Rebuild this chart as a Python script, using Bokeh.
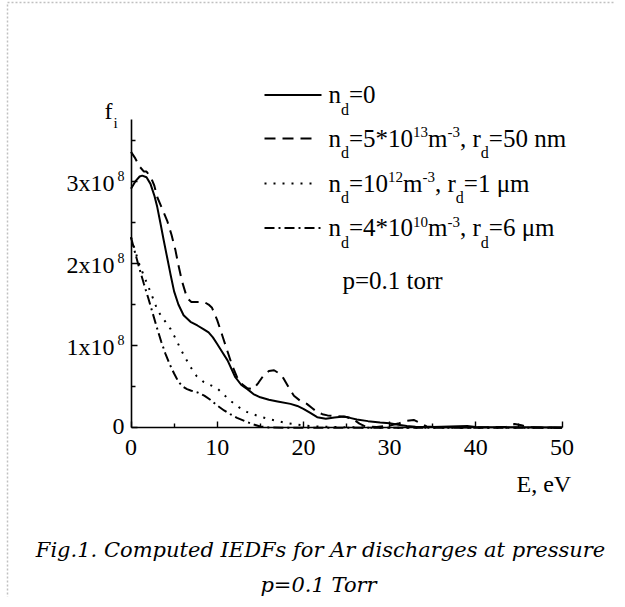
from bokeh.plotting import figure
from bokeh.models import Range1d, FixedTicker, Label, CustomJSTickFormatter
from bokeh.embed import file_html
from bokeh.resources import INLINE

# ---------------- data (f in units of 1e8) ----------------
E_solid = [0, 0.5, 1.0, 1.3, 1.8, 2.26, 2.7, 3.04, 3.4, 3.8, 4.2, 4.58, 5.0, 5.5, 6.1, 6.9, 7.7, 8.4, 9.0,
           9.5, 10.0, 10.6, 11.2, 12.1, 12.8, 13.5, 14.2, 15.0, 16.0, 17.0, 18.5, 19.3, 20.0, 20.8, 21.6,
           22.6, 23.6, 24.7, 25.4, 26.2, 27.5, 28.9, 30.0, 31.0, 32.0, 33.0, 35.0, 37.0, 39.0, 40.0, 42.0,
           45.0, 50.0]
F_solid = [2.91, 3.0, 3.06, 3.07, 3.05, 2.97, 2.83, 2.69, 2.5, 2.28, 2.07, 1.87, 1.66, 1.5, 1.37, 1.29, 1.245,
           1.2, 1.16, 1.1, 1.02, 0.92, 0.82, 0.615, 0.52, 0.47, 0.41, 0.37, 0.34, 0.32, 0.29, 0.265, 0.23,
           0.18, 0.128, 0.108, 0.125, 0.136, 0.12, 0.10, 0.08, 0.063, 0.055, 0.035, 0.02, 0.012, 0.01,
           0.015, 0.02, 0.01, 0.005, 0.005, 0.003]

E_dash = [0, 0.5, 1.0, 1.5, 1.8, 2.3, 2.7, 3.04, 3.6, 4.2, 4.7, 5.16, 5.5, 5.9, 6.5, 7.0, 7.5, 8.06, 8.5, 9.0,
          9.4, 10.0, 10.6, 11.16, 11.7, 12.3, 12.9, 13.5, 14.2, 14.8, 15.4, 16.0, 16.6, 17.2, 17.7, 18.3,
          18.9, 19.6, 20.4, 21.0, 21.6, 22.2, 22.8, 24.0, 25.0, 25.8, 26.5, 27.2, 28.5, 30.0, 31.0, 32.0,
          32.8, 33.5, 34.3, 35.5, 40.0, 43.5, 44.5, 45.3, 46.0, 50.0]
F_dash = [3.36, 3.28, 3.18, 3.12, 3.12, 3.05, 2.95, 2.81, 2.67, 2.52, 2.35, 2.16, 1.98, 1.79, 1.58, 1.53, 1.53,
          1.53, 1.53, 1.5, 1.46, 1.31, 1.12, 0.94, 0.77, 0.615, 0.53, 0.48, 0.47, 0.55, 0.64, 0.69, 0.70,
          0.66, 0.60, 0.49, 0.39, 0.33, 0.29, 0.24, 0.19, 0.165, 0.15, 0.14, 0.13, 0.10, 0.05, 0.015, 0.01,
          0.025, 0.05, 0.085, 0.095, 0.06, 0.015, 0.005, 0.003, 0.01, 0.045, 0.03, 0.005, 0.0]

E_dot = [0, 0.5, 1.0, 1.5, 2.0, 2.65, 3.0, 3.5, 4.0, 4.6, 5.2, 5.7, 6.3, 6.9, 7.6, 8.4, 9.2, 10.0, 10.7, 11.5,
         12.5, 13.5, 14.8, 16.2, 18.1, 20.0, 22.0, 24.0, 26.0, 28.0, 50.0]
F_dot = [2.32, 2.15, 1.98, 1.85, 1.72, 1.55, 1.45, 1.36, 1.29, 1.2, 1.08, 0.97, 0.85, 0.74, 0.63, 0.56, 0.52,
         0.48, 0.41, 0.33, 0.25, 0.19, 0.14, 0.10, 0.055, 0.027, 0.012, 0.008, 0.004, 0.0, 0.0]

E_dashdot = [0, 0.5, 1.0, 1.5, 2.0, 2.5, 3.0, 3.5, 4.0, 4.5, 5.0, 5.5, 6.0, 6.5, 7.0, 7.7, 8.5, 9.2, 10.0,
             10.8, 11.5, 12.3, 13.2, 14.2, 15.0, 16.0, 18.0, 50.0]
F_dashdot = [2.32, 2.12, 1.93, 1.75, 1.58, 1.40, 1.22, 1.05, 0.90, 0.77, 0.66, 0.56, 0.50, 0.47, 0.45, 0.43,
             0.39, 0.34, 0.27, 0.21, 0.165, 0.12, 0.08, 0.04, 0.015, 0.003, 0.0, 0.0]

x_ticks = [0, 10, 20, 30, 40, 50]
x_minor = [5, 15, 25, 35, 45]
x_tick_labels = ["0", "10", "20", "30", "40", "50"]
y_ticks = [0, 1, 2, 3]
y_minor = [0.5, 1.5, 2.5, 3.5]
y_tick_main = ["0", "1x10", "2x10", "3x10"]
y_tick_sup = ["", "8", "8", "8"]

legend_rows = [
    [("n", "m"), ("d", "sub"), ("=0", "m")],
    [("n", "m"), ("d", "sub"), ("=5*10", "m"), ("13", "sup"), ("m", "m"), ("-3", "sup"), (", r", "m"),
     ("d", "sub"), ("=50 nm", "m")],
    [("n", "m"), ("d", "sub"), ("=10", "m"), ("12", "sup"), ("m", "m"), ("-3", "sup"), (", r", "m"),
     ("d", "sub"), ("=1 \u03bcm", "m")],
    [("n", "m"), ("d", "sub"), ("=4*10", "m"), ("10", "sup"), ("m", "m"), ("-3", "sup"), (", r", "m"),
     ("d", "sub"), ("=6 \u03bcm", "m")],
]
legend_dash = ["solid", "11 7", "2 7", "10 4 2 4"]
pressure_note = "p=0.1 torr"
caption_lines = ["Fig.1. Computed IEDFs for Ar discharges at pressure", "p=0.1 Torr"]

# ---------------- layout (page pixels) ----------------
W, H = 624, 606
MB, MR = 10, 10          # thin panels holding the (relocated) axes
PXE = 431.0 / 50.0       # px per eV
PYF = 82.1               # px per 1e8
X0P = 130.5              # page x of E=0
Y0P = 427.2              # page y of f=0
BASE_FIX = 0.33          # observed downward offset of label baselines, in em

def X(px):
    return (px - X0P) / PXE

def Y(py):
    return (Y0P - py) / PYF

FONT = "Liberation Serif"
CAP_FONT = "DejaVu Serif"
p = figure(width=W, height=H, output_backend="svg", toolbar_location=None,
           x_axis_location="below", y_axis_location="right",
           x_range=Range1d(X(0), X(W - MR)), y_range=Range1d(Y(H - MB), Y(0)),
           min_border_left=0, min_border_bottom=MB, min_border_top=0, min_border_right=MR)
p.outline_line_color = None
p.grid.visible = False
p.background_fill_color = "white"
p.border_fill_color = "white"

for ax in (p.xaxis[0], p.yaxis[0]):
    ax.fixed_location = 0
    ax.axis_line_color = "black"
    ax.axis_line_width = 1.6
    ax.major_tick_line_color = "black"
    ax.minor_tick_line_color = "black"
    ax.major_tick_line_width = 1.4
    ax.minor_tick_line_width = 1.4
    ax.major_label_standoff = 0
    ax.major_label_text_font_size = "1px"
    ax.formatter = CustomJSTickFormatter(code="return ''")

# x axis (below panel): ticks point up, into the plot
p.xaxis.major_tick_in = 6
p.xaxis.major_tick_out = 0
p.xaxis.minor_tick_in = 4
p.xaxis.minor_tick_out = 0
# y axis (right panel): ticks point right, into the plot
p.yaxis.major_tick_in = 0
p.yaxis.major_tick_out = 6
p.yaxis.minor_tick_in = 0
p.yaxis.minor_tick_out = 4

p.xaxis.bounds = (0, 50)
p.yaxis.bounds = (0, 3.75)
p.xaxis.ticker = FixedTicker(ticks=x_ticks, minor_ticks=x_minor)
p.yaxis.ticker = FixedTicker(ticks=y_ticks, minor_ticks=y_minor)

series = [(E_solid, F_solid), (E_dash, F_dash), (E_dot, F_dot), (E_dashdot, F_dashdot)]
for (ex, fy), dash in zip(series, legend_dash):
    p.line(ex, fy, line_color="black", line_width=2, line_dash=dash)

# faint dotted page border (left and top)
p.line([X(7), X(7), X(W)], [Y(H), Y(2), Y(2)], line_color="#c0c0c0", line_width=1.5, line_dash="2 2")

# ---------------- text helpers ----------------
WID = {'n': .5, 'd': .5, '=': .564, '*': .5, 'm': .778, '-': .333, ',': .25, ' ': .25, 'r': .333,
       '\u03bc': .576, 'p': .5, '.': .25, 't': .278, 'o': .5, 'x': .5}
FS = {"m": 25, "sub": 16, "sup": 15}
DY = {"m": 0, "sub": 11.5, "sup": -9.5}

def twidth(s, size):
    return sum(WID.get(c, .5) for c in s) * size

def label(px, py, text, size=24, align="left", style="normal", font=FONT):
    p.add_layout(Label(x=X(px), y=Y(py - BASE_FIX * size), text=text, text_font=font,
                       text_font_size=f"{size}px", text_align=align, text_baseline="alphabetic",
                       text_color="black", text_font_style=style))

def rich(px, py, segs):
    x = px
    for s, kind in segs:
        label(x, py + DY[kind], s, FS[kind])
        x += twidth(s, FS[kind])

# x tick labels
for t, txt in zip(x_ticks, x_tick_labels):
    label(X0P + t * PXE, 455, txt, 24, "center")

# y tick labels
for t, main, sup in zip(y_ticks, y_tick_main, y_tick_sup):
    ty = Y0P - t * PYF
    if sup:
        label(124, ty - 0.5, sup, 14, "right")
        label(114, ty + 9.5, main, 24, "right")
    else:
        label(124, ty + 7, main, 24, "right")

# axis titles
label(104, 118, "f", 24)
label(113, 127, "i", 15)
label(516, 491, "E, eV", 24)

# legend
row_base = [102.6, 146.0, 191.0, 235.5]
sample_end = [321, 315, 318, 323]
for segs, dash, b, se in zip(legend_rows, legend_dash, row_base, sample_end):
    p.line([X(264), X(se)], [Y(b - 8), Y(b - 8)], line_color="black", line_width=2, line_dash=dash)
    rich(328, b, segs)
label(342, 288, pressure_note, 25)

# caption
label(320, 556, caption_lines[0], 21, "center", "italic", CAP_FONT)
label(318, 591, caption_lines[1], 21, "center", "italic", CAP_FONT)

open("out.html", "w").write(file_html(p, INLINE))
